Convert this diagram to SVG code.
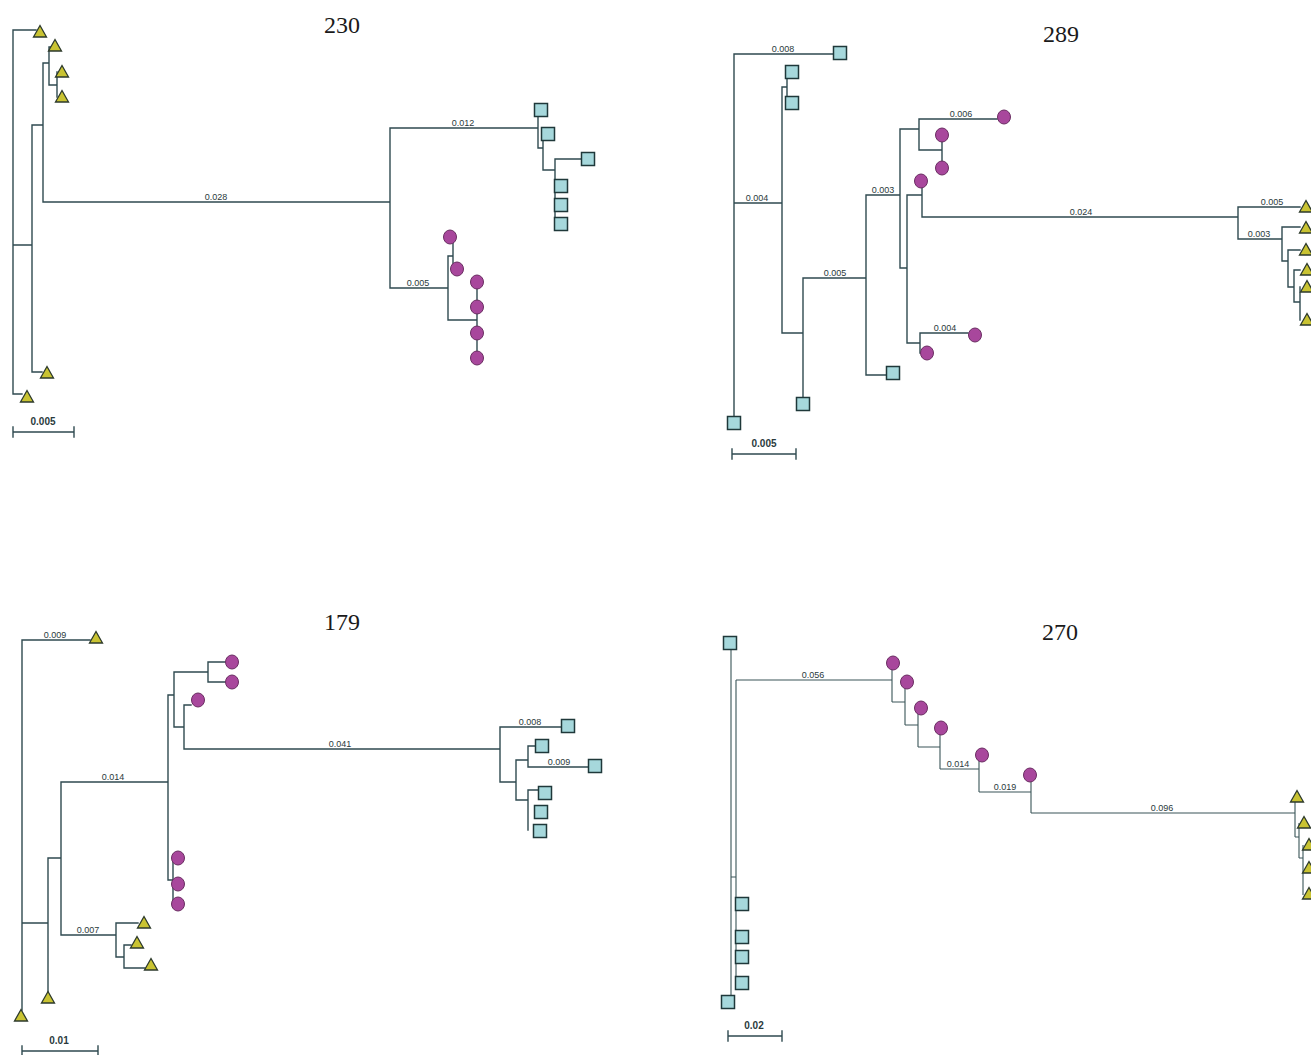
<svg xmlns="http://www.w3.org/2000/svg" xmlns:xlink="http://www.w3.org/1999/xlink" width="1311" height="1055" viewBox="0 0 1311 1055">
<style>
.br{fill:none;stroke:#2f4a50;stroke-width:1.4;stroke-linecap:square}
.br2{fill:none;stroke:#3a5558;stroke-width:1.1}
.tri{fill:#c9c332;stroke:#2d3a2c;stroke-width:1.3}
.sq{fill:#a6d8dc;stroke:#1f383a;stroke-width:1.5}
.ci{fill:#a8479c;stroke:#6a2e62;stroke-width:1}
.lb{font-family:"Liberation Sans",Arial,sans-serif;font-size:9px;fill:#2a3a3c;text-anchor:middle}
.sc{font-family:"Liberation Sans",Arial,sans-serif;font-size:10px;font-weight:bold;fill:#2a3a3c;text-anchor:middle}
.ti{font-family:"Liberation Serif","Times New Roman",serif;font-size:24px;fill:#1a1a1a;text-anchor:middle}
</style>
<defs>
<polygon id="t" points="0,-6.5 6.5,5 -6.5,5"/>
<rect id="s" x="-6.5" y="-6.5" width="13" height="13"/>
<ellipse id="c" cx="0" cy="0" rx="6.5" ry="7"/>
</defs>
<rect width="1311" height="1055" fill="#ffffff"/>

<g id="titles">
<text class="ti" x="342" y="33">230</text>
<text class="ti" x="1061" y="42">289</text>
<text class="ti" x="342" y="630">179</text>
<text class="ti" x="1060" y="640">270</text>
</g>

<g id="connectors">
<path class="br" d="M13,30V394M13,30H36M13,394H22M13,245H32M32,125V372M32,372H42M32,125H43M43,63V202M43,202H390M43,63H49M49,47V85M49,47H51M49,85H57M57,72V97M390,128V288M390,128H538M538,110V148M538,148H543M543,134V170M543,170H555M555,159V224M555,159H582M390,288H448M448,256V320M448,256H453M453,237V269M448,320H477M477,282V358"/>
<path class="br" d="M734,54V418M734,54H833M734,203H782M782,87V333M782,87H787M787,72V103M782,333H803M803,278V398M803,278H866M866,195V375M866,375H886M866,195H900M900,129V268M900,129H919M919,119V150M919,119H997M919,150H942M942,135V168M900,268H907M907,195V343M907,195H922M922,181V217M922,217H1238M907,343H920M920,333V353M920,333H968M1238,207V239M1238,207H1300M1238,239H1282M1282,227V261M1282,227H1300M1282,261H1288M1288,250V287M1288,250H1300M1288,287H1294M1294,270V302M1294,270H1300M1294,302H1300M1300,287V320"/>
<path class="br" d="M22,640V1010M22,640H90M22,923H48M48,858V992M48,858H61M61,782V935M61,782H168M61,935H116M116,923V957M116,923H138M116,957H124M124,945V968M124,945H131M124,968H145M168,695V880M168,880H173M173,858V904M168,695H174M174,672V727M174,672H208M208,662V682M208,662H225M208,682H225M174,727H184M184,705V749M184,705H191M184,749H500M500,727V782M500,727H561M500,782H516M516,760V800M516,760H528M528,746V767M528,746H535M528,767H589M516,800H528M528,790V830M528,790H538"/>
<path class="br2" d="M731,643V1002M731,877H736M736,680V983M736,680H892M892,663V702M892,702H905M905,682V725M905,725H918M918,708V747M918,747H940M940,728V769M940,769H979M979,755V792M979,792H1031M1031,775V813M1031,813H1295M1295,798V837M1295,837H1299M1299,823V858M1299,858H1303M1303,845V895"/>
<path class="br" d="M13,432H74M13,427V437M74,427V437M732,454H796M732,449V459M796,449V459M22,1051H98M22,1046V1056M98,1046V1056M728,1036H782M728,1031V1041M782,1031V1041"/>
</g>

<g id="labels">
<text class="lb" x="216" y="200">0.028</text>
<text class="lb" x="463" y="126">0.012</text>
<text class="lb" x="418" y="286">0.005</text>
<text class="lb" x="783" y="52">0.008</text>
<text class="lb" x="757" y="201">0.004</text>
<text class="lb" x="835" y="276">0.005</text>
<text class="lb" x="883" y="193">0.003</text>
<text class="lb" x="961" y="117">0.006</text>
<text class="lb" x="1081" y="215">0.024</text>
<text class="lb" x="945" y="331">0.004</text>
<text class="lb" x="1272" y="205">0.005</text>
<text class="lb" x="1259" y="237">0.003</text>
<text class="lb" x="55" y="638">0.009</text>
<text class="lb" x="113" y="780">0.014</text>
<text class="lb" x="88" y="933">0.007</text>
<text class="lb" x="340" y="747">0.041</text>
<text class="lb" x="530" y="725">0.008</text>
<text class="lb" x="559" y="765">0.009</text>
<text class="lb" x="813" y="678">0.056</text>
<text class="lb" x="958" y="767">0.014</text>
<text class="lb" x="1005" y="790">0.019</text>
<text class="lb" x="1162" y="811">0.096</text>
<text class="sc" x="43" y="425">0.005</text>
<text class="sc" x="764" y="447">0.005</text>
<text class="sc" x="59" y="1044">0.01</text>
<text class="sc" x="754" y="1029">0.02</text>
</g>

<g id="tree230">
<g id="n230_t1"><use href="#t" class="tri" x="40" y="32"/></g>
<g id="n230_t2"><use href="#t" class="tri" x="55" y="46"/></g>
<g id="n230_t3"><use href="#t" class="tri" x="62" y="72"/></g>
<g id="n230_t4"><use href="#t" class="tri" x="62" y="97"/></g>
<g id="n230_t5"><use href="#t" class="tri" x="47" y="373"/></g>
<g id="n230_t6"><use href="#t" class="tri" x="27" y="397"/></g>
<g id="n230_s1"><use href="#s" class="sq" x="541" y="110"/></g>
<g id="n230_s2"><use href="#s" class="sq" x="548" y="134"/></g>
<g id="n230_s3"><use href="#s" class="sq" x="588" y="159"/></g>
<g id="n230_s4"><use href="#s" class="sq" x="561" y="186"/></g>
<g id="n230_s5"><use href="#s" class="sq" x="561" y="205"/></g>
<g id="n230_s6"><use href="#s" class="sq" x="561" y="224"/></g>
<g id="n230_c1"><use href="#c" class="ci" x="450" y="237"/></g>
<g id="n230_c2"><use href="#c" class="ci" x="457" y="269"/></g>
<g id="n230_c3"><use href="#c" class="ci" x="477" y="282"/></g>
<g id="n230_c4"><use href="#c" class="ci" x="477" y="307"/></g>
<g id="n230_c5"><use href="#c" class="ci" x="477" y="333"/></g>
<g id="n230_c6"><use href="#c" class="ci" x="477" y="358"/></g>
</g>

<g id="tree289">
<g id="n289_s1"><use href="#s" class="sq" x="840" y="53"/></g>
<g id="n289_s2"><use href="#s" class="sq" x="792" y="72"/></g>
<g id="n289_s3"><use href="#s" class="sq" x="792" y="103"/></g>
<g id="n289_s4"><use href="#s" class="sq" x="734" y="423"/></g>
<g id="n289_s5"><use href="#s" class="sq" x="803" y="404"/></g>
<g id="n289_s6"><use href="#s" class="sq" x="893" y="373"/></g>
<g id="n289_c1"><use href="#c" class="ci" x="1004" y="117"/></g>
<g id="n289_c2"><use href="#c" class="ci" x="942" y="135"/></g>
<g id="n289_c3"><use href="#c" class="ci" x="942" y="168"/></g>
<g id="n289_c4"><use href="#c" class="ci" x="921" y="181"/></g>
<g id="n289_c5"><use href="#c" class="ci" x="975" y="335"/></g>
<g id="n289_c6"><use href="#c" class="ci" x="927" y="353"/></g>
<g id="n289_t1"><use href="#t" class="tri" x="1306" y="207"/></g>
<g id="n289_t2"><use href="#t" class="tri" x="1306" y="228"/></g>
<g id="n289_t3"><use href="#t" class="tri" x="1306" y="250"/></g>
<g id="n289_t4"><use href="#t" class="tri" x="1307" y="270"/></g>
<g id="n289_t5"><use href="#t" class="tri" x="1307" y="287"/></g>
<g id="n289_t6"><use href="#t" class="tri" x="1307" y="320"/></g>
</g>

<g id="tree179">
<g id="n179_t1"><use href="#t" class="tri" x="96" y="638"/></g>
<g id="n179_t2"><use href="#t" class="tri" x="21" y="1016"/></g>
<g id="n179_t3"><use href="#t" class="tri" x="48" y="998"/></g>
<g id="n179_t4"><use href="#t" class="tri" x="144" y="923"/></g>
<g id="n179_t5"><use href="#t" class="tri" x="137" y="943"/></g>
<g id="n179_t6"><use href="#t" class="tri" x="151" y="965"/></g>
<g id="n179_c1"><use href="#c" class="ci" x="232" y="662"/></g>
<g id="n179_c2"><use href="#c" class="ci" x="232" y="682"/></g>
<g id="n179_c3"><use href="#c" class="ci" x="198" y="700"/></g>
<g id="n179_c4"><use href="#c" class="ci" x="178" y="858"/></g>
<g id="n179_c5"><use href="#c" class="ci" x="178" y="884"/></g>
<g id="n179_c6"><use href="#c" class="ci" x="178" y="904"/></g>
<g id="n179_s1"><use href="#s" class="sq" x="568" y="726"/></g>
<g id="n179_s2"><use href="#s" class="sq" x="542" y="746"/></g>
<g id="n179_s3"><use href="#s" class="sq" x="595" y="766"/></g>
<g id="n179_s4"><use href="#s" class="sq" x="545" y="793"/></g>
<g id="n179_s5"><use href="#s" class="sq" x="541" y="812"/></g>
<g id="n179_s6"><use href="#s" class="sq" x="540" y="831"/></g>
</g>

<g id="tree270">
<g id="n270_s1"><use href="#s" class="sq" x="730" y="643"/></g>
<g id="n270_s2"><use href="#s" class="sq" x="728" y="1002"/></g>
<g id="n270_s3"><use href="#s" class="sq" x="742" y="904"/></g>
<g id="n270_s4"><use href="#s" class="sq" x="742" y="937"/></g>
<g id="n270_s5"><use href="#s" class="sq" x="742" y="957"/></g>
<g id="n270_s6"><use href="#s" class="sq" x="742" y="983"/></g>
<g id="n270_c1"><use href="#c" class="ci" x="893" y="663"/></g>
<g id="n270_c2"><use href="#c" class="ci" x="907" y="682"/></g>
<g id="n270_c3"><use href="#c" class="ci" x="921" y="708"/></g>
<g id="n270_c4"><use href="#c" class="ci" x="941" y="728"/></g>
<g id="n270_c5"><use href="#c" class="ci" x="982" y="755"/></g>
<g id="n270_c6"><use href="#c" class="ci" x="1030" y="775"/></g>
<g id="n270_t1"><use href="#t" class="tri" x="1297" y="797"/></g>
<g id="n270_t2"><use href="#t" class="tri" x="1304" y="823"/></g>
<g id="n270_t3"><use href="#t" class="tri" x="1309" y="845"/></g>
<g id="n270_t4"><use href="#t" class="tri" x="1309" y="868"/></g>
<g id="n270_t5"><use href="#t" class="tri" x="1309" y="894"/></g>
</g>
</svg>
